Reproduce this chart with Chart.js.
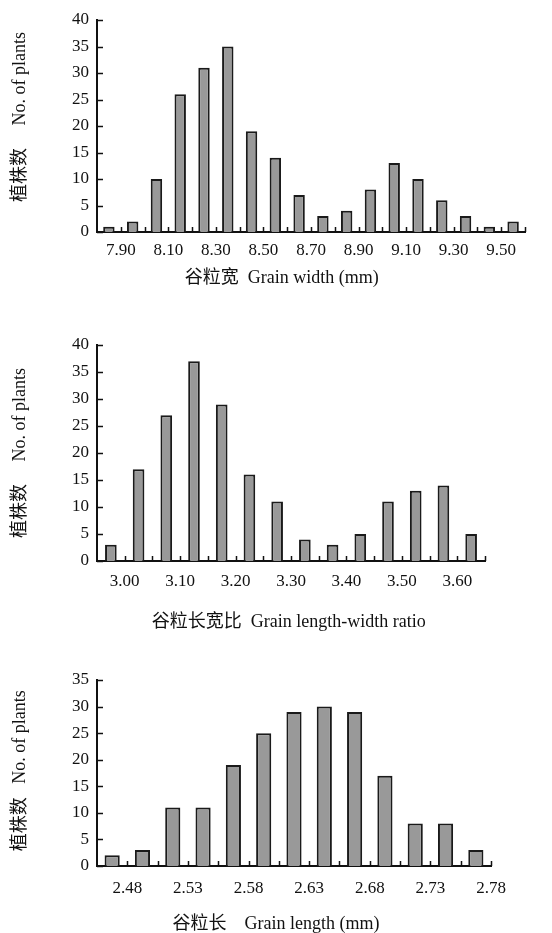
<!DOCTYPE html>
<html>
<head>
<meta charset="utf-8">
<script src="https://cdn.jsdelivr.net/npm/chart.js@4/dist/chart.umd.min.js"></script>
<style>
  html, body { margin: 0; padding: 0; background: #fff; }
  body { width: 552px; height: 933px; position: relative; overflow: hidden; }
  .panel { position: absolute; left: 0; width: 552px; }
</style>
</head>
<body>
<div class="panel" style="top:0;height:295px"><canvas id="grafAncho"></canvas></div>
<div class="panel" style="top:325px;height:307px"><canvas id="grafRatio"></canvas></div>
<div class="panel" style="top:655px;height:278px"><canvas id="grafLargo"></canvas></div>
<script>
// grain width (mm), bins of 0.10
const widthBins = [7.85, 7.95, 8.05, 8.15, 8.25, 8.35, 8.45, 8.55, 8.65, 8.75, 8.85, 8.95, 9.05, 9.15, 9.25, 9.35, 9.45, 9.55];
const widthCounts = [1, 2, 10, 26, 31, 35, 19, 14, 7, 3, 4, 8, 13, 10, 6, 3, 1, 2];
const widthTicks = ['7.90', '8.10', '8.30', '8.50', '8.70', '8.90', '9.10', '9.30', '9.50'];

// length-width ratio, bins of 0.05
const ratioBins = [2.975, 3.025, 3.075, 3.125, 3.175, 3.225, 3.275, 3.325, 3.375, 3.425, 3.475, 3.525, 3.575, 3.625];
const ratioCounts = [3, 17, 27, 37, 29, 16, 11, 4, 3, 5, 11, 13, 14, 5];
const ratioTicks = ['3.00', '3.10', '3.20', '3.30', '3.40', '3.50', '3.60'];

// grain length (mm), bins of 0.025
const lengthBins = [2.4675, 2.4925, 2.5175, 2.5425, 2.5675, 2.5925, 2.6175, 2.6425, 2.6675, 2.6925, 2.7175, 2.7425, 2.7675];
const lengthCounts = [2, 3, 11, 11, 19, 25, 29, 30, 29, 17, 8, 8, 3];
const lengthTicks = ['2.48', '2.53', '2.58', '2.63', '2.68', '2.73', '2.78'];

const fuenteTicks = { family: '"Liberation Serif", "Times New Roman", serif', size: 17 };
const fuenteTitulo = { family: '"Liberation Serif", "Noto Sans CJK SC", serif', size: 18, lineHeight: 1 };

// little tick marks pointing into the plot
const ticksDentro = {
  id: 'ticksDentro',
  afterDraw(chart) {
    const { ctx, scales: { x, y } } = chart;
    ctx.save();
    ctx.strokeStyle = '#111';
    ctx.lineWidth = 1.5;
    ctx.beginPath();
    x.ticks.forEach((t, i) => {
      if (i === 0) return;
      const px = Math.round(x.getPixelForTick(i)) + 0.5;
      ctx.moveTo(px, x.top);
      ctx.lineTo(px, x.top - 5);
    });
    y.ticks.forEach((t, i) => {
      const py = Math.round(y.getPixelForTick(i)) + 0.5;
      ctx.moveTo(y.right, py);
      ctx.lineTo(y.right + 6, py);
    });
    ctx.stroke();
    ctx.restore();
  }
};

const histograma = (id, bins, counts, etiquetas, cfg) => {
  const data = {
    datasets: [{
      data: bins.map((b, i) => ({ x: b, y: counts[i] })),
      backgroundColor: '#999999',
      borderColor: '#1a1a1a',
      borderWidth: 2,
      borderSkipped: 'bottom',
      categoryPercentage: 1,
      barPercentage: cfg.barPct
    }]
  };

  const config = {
    type: 'bar',
    data,
    options: {
      responsive: true,
      maintainAspectRatio: false,
      animation: false,
      layout: { padding: { top: cfg.top, right: cfg.right, left: 0, bottom: 0 } },
      plugins: { legend: { display: false }, tooltip: { enabled: false } },
      scales: {
        x: {
          type: 'linear',
          min: cfg.xmin,
          max: cfg.xmax,
          offset: false,
          grid: { display: false, drawTicks: false, offset: false },
          border: { color: '#111', width: 2 },
          ticks: {
            stepSize: cfg.step,
            autoSkip: false,
            maxRotation: 0,
            padding: cfg.tickPad,
            color: '#111',
            font: fuenteTicks,
            callback: v => etiquetas.includes(v.toFixed(2)) ? v.toFixed(2) : ''
          },
          title: { display: true, text: cfg.xTitle, color: '#111', font: fuenteTitulo, padding: { top: 0, bottom: cfg.titlePad } },
          afterFit: s => { s.height = cfg.xh; }
        },
        y: {
          min: 0,
          max: cfg.ymax,
          grid: { display: false, drawTicks: false },
          border: { color: '#111', width: 2 },
          ticks: { stepSize: 5, padding: 8, color: '#111', font: fuenteTicks },
          title: { display: true, text: cfg.yTitle, color: '#111', font: fuenteTitulo, padding: { top: 11, bottom: 0 } },
          afterFit: s => { s.width = 97; }
        }
      }
    },
    plugins: [ticksDentro]
  };

  new Chart(document.getElementById(id), config);
};

histograma('grafAncho', widthBins, widthCounts, widthTicks, {
  xmin: 7.8, xmax: 9.6, step: 0.1, ymax: 40, barPct: 0.48,
  top: 20, right: 27, xh: 63, tickPad: 8, titlePad: 8,
  xTitle: '谷粒宽  Grain width (mm)             ',
  yTitle: '    植株数     No. of plants'
});

histograma('grafRatio', ratioBins, ratioCounts, ratioTicks, {
  xmin: 2.95, xmax: 3.65, step: 0.05, ymax: 40, barPct: 0.42,
  top: 20, right: 67, xh: 71, tickPad: 10, titlePad: 1,
  xTitle: '谷粒长宽比  Grain length-width ratio ',
  yTitle: '植株数     No. of plants'
});

histograma('grafLargo', lengthBins, lengthCounts, lengthTicks, {
  xmin: 2.455, xmax: 2.78, step: 0.025, ymax: 35, barPct: 0.5,
  top: 25, right: 61, xh: 67, tickPad: 12, titlePad: 0,
  xTitle: '谷粒长    Grain length (mm)        ',
  yTitle: ' 植株数   No. of plants'
});
</script>
</body>
</html>
